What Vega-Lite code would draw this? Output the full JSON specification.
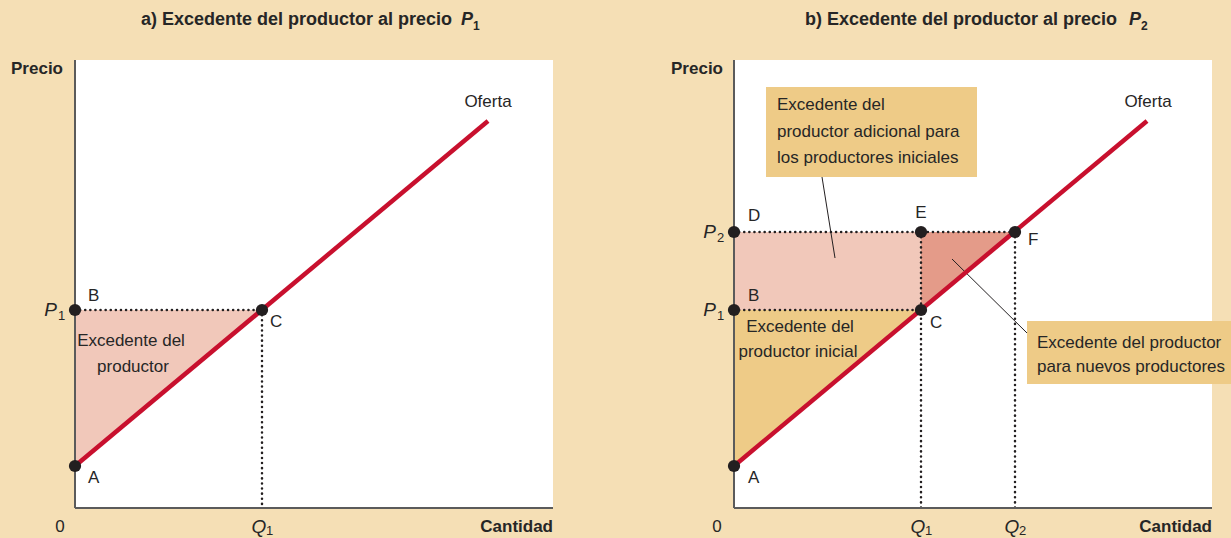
{
  "$schema": "https://vega.github.io/schema/vega-lite/v6.json",
  "background": "#F5DFB5",
  "padding": {"left": 11, "top": 11, "right": 0, "bottom": 0},
  "config": {
    "view": {"fill": "white", "stroke": null},
    "text": {"font": "Liberation Sans", "fontSize": 17, "color": "#262626", "baseline": "middle"}
  },
  "spacing": 181,
  "bounds": "flush",
  "hconcat": [
    {
      "width": 478,
      "height": 448,
      "encoding": {
        "x": {"field": "x", "type": "quantitative", "scale": {"domain": [0, 478], "nice": false, "zero": false}, "axis": null},
        "y": {"field": "y", "type": "quantitative", "scale": {"domain": [0, 448], "nice": false, "zero": false}, "axis": null}
      },
      "layer": [
        {"data": {"values": [{"x": 0, "y": 198, "y2": 42}, {"x": 187, "y": 198, "y2": 198}]},
         "mark": {"type": "area", "color": "#F1C8BA"}, "encoding": {"y2": {"field": "y2"}}},
        {"data": {"values": [{"x": 0, "y": 198, "x2": 187, "y2": 198}, {"x": 187, "y": 198, "x2": 187, "y2": 0}]},
         "mark": {"type": "rule", "color": "#231F20", "strokeWidth": 2.5, "strokeDash": [0.1, 5], "strokeCap": "round"},
         "encoding": {"x2": {"field": "x2"}, "y2": {"field": "y2"}}},
        {"data": {"values": [{"x": 0, "y": 0, "x2": 0, "y2": 448}, {"x": 0, "y": 0, "x2": 478, "y2": 0}]},
         "mark": {"type": "rule", "color": "#5b5b5b", "strokeWidth": 2},
         "encoding": {"x2": {"field": "x2"}, "y2": {"field": "y2"}}},
        {"data": {"values": [{"x": 0, "y": 42, "x2": 413, "y2": 387}]},
         "mark": {"type": "rule", "color": "#C8102E", "strokeWidth": 4.5},
         "encoding": {"x2": {"field": "x2"}, "y2": {"field": "y2"}}},
        {"data": {"values": [{"x": 0, "y": 42}, {"x": 0, "y": 198}, {"x": 187, "y": 198}]},
         "mark": {"type": "circle", "size": 150, "color": "#231F20", "opacity": 1}},
        {"data": {"values": [{"x": 13, "y": 212, "t": "B"}, {"x": 195, "y": 186, "t": "C"}, {"x": 13, "y": 30, "t": "A"}]},
         "mark": {"type": "text", "align": "left"}, "encoding": {"text": {"field": "t"}}},
        {"data": {"values": [{"x": 413, "y": 406, "t": "Oferta"}, {"x": 56, "y": 167, "t": "Excedente del"}, {"x": 58, "y": 141, "t": "productor"}, {"x": -15, "y": -19, "t": "0"}]},
         "mark": {"type": "text", "align": "center"}, "encoding": {"text": {"field": "t"}}},
        {"data": {"values": [{"x": -18, "y": 198, "t": "P"}]},
         "mark": {"type": "text", "align": "right", "fontStyle": "italic", "fontSize": 19}, "encoding": {"text": {"field": "t"}}},
        {"data": {"values": [{"x": 184, "y": -19, "t": "Q"}]},
         "mark": {"type": "text", "align": "center", "fontStyle": "italic", "fontSize": 19}, "encoding": {"text": {"field": "t"}}},
        {"data": {"values": [{"x": -17, "y": 192, "t": "1"}, {"x": 191, "y": -23, "t": "1"}]},
         "mark": {"type": "text", "align": "left", "fontSize": 13}, "encoding": {"text": {"field": "t"}}},
        {"data": {"values": [{"x": -12, "y": 439, "t": "Precio"}, {"x": 478, "y": -19, "t": "Cantidad"}]},
         "mark": {"type": "text", "align": "right", "fontWeight": "bold", "fontSize": 17}, "encoding": {"text": {"field": "t"}}},
        {"data": {"values": [{"x": 377, "y": 488, "t": "a) Excedente del productor al precio"}]},
         "mark": {"type": "text", "align": "right", "fontWeight": "bold", "fontSize": 18}, "encoding": {"text": {"field": "t"}}},
        {"data": {"values": [{"x": 386, "y": 488, "t": "P"}]},
         "mark": {"type": "text", "align": "left", "fontWeight": "bold", "fontStyle": "italic", "fontSize": 18}, "encoding": {"text": {"field": "t"}}},
        {"data": {"values": [{"x": 398, "y": 482, "t": "1"}]},
         "mark": {"type": "text", "align": "left", "fontWeight": "bold", "fontSize": 12}, "encoding": {"text": {"field": "t"}}}
      ]
    },
    {
      "width": 478,
      "height": 448,
      "encoding": {
        "x": {"field": "x", "type": "quantitative", "scale": {"domain": [0, 478], "nice": false, "zero": false}, "axis": null},
        "y": {"field": "y", "type": "quantitative", "scale": {"domain": [0, 448], "nice": false, "zero": false}, "axis": null}
      },
      "layer": [
        {"data": {"values": [{"x": 0, "y": 198, "y2": 42}, {"x": 187, "y": 198, "y2": 198}]},
         "mark": {"type": "area", "color": "#EECB87"}, "encoding": {"y2": {"field": "y2"}}},
        {"data": {"values": [{"x": 0, "y": 276, "x2": 187, "y2": 198}]},
         "mark": {"type": "rect", "color": "#F1C8BA"}, "encoding": {"x2": {"field": "x2"}, "y2": {"field": "y2"}}},
        {"data": {"values": [{"x": 187, "y": 276, "y2": 198}, {"x": 281, "y": 276, "y2": 276}]},
         "mark": {"type": "area", "color": "#E49B89"}, "encoding": {"y2": {"field": "y2"}}},
        {"data": {"values": [{"x": 32, "y": 421, "x2": 243, "y2": 331}, {"x": 293, "y": 187, "x2": 497, "y2": 124}]},
         "mark": {"type": "rect", "color": "#EECB87"}, "encoding": {"x2": {"field": "x2"}, "y2": {"field": "y2"}}},
        {"data": {"values": [{"x": 88, "y": 331, "x2": 101, "y2": 250}, {"x": 218, "y": 249, "x2": 293, "y2": 175}]},
         "mark": {"type": "rule", "color": "#231F20", "strokeWidth": 1},
         "encoding": {"x2": {"field": "x2"}, "y2": {"field": "y2"}}},
        {"data": {"values": [{"x": 0, "y": 276, "x2": 281, "y2": 276}, {"x": 0, "y": 198, "x2": 187, "y2": 198}, {"x": 187, "y": 276, "x2": 187, "y2": 0}, {"x": 281, "y": 276, "x2": 281, "y2": 0}]},
         "mark": {"type": "rule", "color": "#231F20", "strokeWidth": 2.5, "strokeDash": [0.1, 5], "strokeCap": "round"},
         "encoding": {"x2": {"field": "x2"}, "y2": {"field": "y2"}}},
        {"data": {"values": [{"x": 0, "y": 0, "x2": 0, "y2": 448}, {"x": 0, "y": 0, "x2": 478, "y2": 0}]},
         "mark": {"type": "rule", "color": "#5b5b5b", "strokeWidth": 2},
         "encoding": {"x2": {"field": "x2"}, "y2": {"field": "y2"}}},
        {"data": {"values": [{"x": 0, "y": 42, "x2": 413, "y2": 387}]},
         "mark": {"type": "rule", "color": "#C8102E", "strokeWidth": 4.5},
         "encoding": {"x2": {"field": "x2"}, "y2": {"field": "y2"}}},
        {"data": {"values": [{"x": 0, "y": 42}, {"x": 0, "y": 198}, {"x": 187, "y": 198}, {"x": 0, "y": 276}, {"x": 187, "y": 276}, {"x": 281, "y": 276}]},
         "mark": {"type": "circle", "size": 150, "color": "#231F20", "opacity": 1}},
        {"data": {"values": [{"x": 14, "y": 212, "t": "B"}, {"x": 196, "y": 185, "t": "C"}, {"x": 14, "y": 30, "t": "A"}, {"x": 14, "y": 292, "t": "D"}, {"x": 294, "y": 268, "t": "F"}]},
         "mark": {"type": "text", "align": "left"}, "encoding": {"text": {"field": "t"}}},
        {"data": {"values": [{"x": 414, "y": 406, "t": "Oferta"}, {"x": 66, "y": 181, "t": "Excedente del"}, {"x": 64, "y": 156, "t": "productor inicial"}, {"x": 187, "y": 295, "t": "E"}, {"x": -17, "y": -19, "t": "0"}]},
         "mark": {"type": "text", "align": "center"}, "encoding": {"text": {"field": "t"}}},
        {"data": {"values": [{"x": 43, "y": 403, "t": "Excedente del"}, {"x": 43, "y": 376, "t": "productor adicional para"}, {"x": 43, "y": 350, "t": "los productores iniciales"}, {"x": 303, "y": 165, "t": "Excedente del productor"}, {"x": 303, "y": 141, "t": "para nuevos productores"}]},
         "mark": {"type": "text", "align": "left"}, "encoding": {"text": {"field": "t"}}},
        {"data": {"values": [{"x": -18, "y": 198, "t": "P"}, {"x": -18, "y": 276, "t": "P"}]},
         "mark": {"type": "text", "align": "right", "fontStyle": "italic", "fontSize": 19}, "encoding": {"text": {"field": "t"}}},
        {"data": {"values": [{"x": 184, "y": -19, "t": "Q"}, {"x": 278, "y": -19, "t": "Q"}]},
         "mark": {"type": "text", "align": "center", "fontStyle": "italic", "fontSize": 19}, "encoding": {"text": {"field": "t"}}},
        {"data": {"values": [{"x": -17, "y": 192, "t": "1"}, {"x": -17, "y": 270, "t": "2"}, {"x": 191, "y": -23, "t": "1"}, {"x": 285, "y": -23, "t": "2"}]},
         "mark": {"type": "text", "align": "left", "fontSize": 13}, "encoding": {"text": {"field": "t"}}},
        {"data": {"values": [{"x": -11, "y": 439, "t": "Precio"}, {"x": 478, "y": -19, "t": "Cantidad"}]},
         "mark": {"type": "text", "align": "right", "fontWeight": "bold", "fontSize": 17}, "encoding": {"text": {"field": "t"}}},
        {"data": {"values": [{"x": 383, "y": 488, "t": "b) Excedente del productor al precio"}]},
         "mark": {"type": "text", "align": "right", "fontWeight": "bold", "fontSize": 18}, "encoding": {"text": {"field": "t"}}},
        {"data": {"values": [{"x": 395, "y": 488, "t": "P"}]},
         "mark": {"type": "text", "align": "left", "fontWeight": "bold", "fontStyle": "italic", "fontSize": 18}, "encoding": {"text": {"field": "t"}}},
        {"data": {"values": [{"x": 407, "y": 482, "t": "2"}]},
         "mark": {"type": "text", "align": "left", "fontWeight": "bold", "fontSize": 12}, "encoding": {"text": {"field": "t"}}}
      ]
    }
  ]
}
